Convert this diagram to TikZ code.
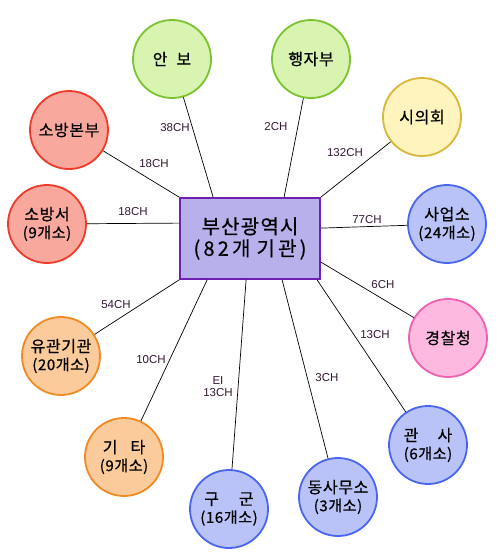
\documentclass[tikz,border=0pt]{standalone}
\usepackage{fontspec}
\newfontfamily\kr[FakeBold=0.6]{Noto Sans CJK KR}
\newfontfamily\lab{Liberation Sans}
\usetikzlibrary{calc}
\definecolor{gFill}{HTML}{D8F4B0}\definecolor{gLine}{HTML}{7DC230}
\definecolor{rFill}{HTML}{F9A89E}\definecolor{rLine}{HTML}{F03A2A}
\definecolor{yFill}{HTML}{FFF3BE}\definecolor{yLine}{HTML}{D9B73A}
\definecolor{bFill}{HTML}{B9C3F7}\definecolor{bLine}{HTML}{4A66F0}
\definecolor{pFill}{HTML}{FDB9E0}\definecolor{pLine}{HTML}{F060B0}
\definecolor{oFill}{HTML}{FCCB9C}\definecolor{oLine}{HTML}{F28A24}
\definecolor{boxFill}{HTML}{B8B0EA}\definecolor{boxLine}{HTML}{7020B0}
\definecolor{lblText}{HTML}{331A33}
\newcommand{\subline}[1]{{\fontsize{15}{17}\selectfont #1}}
\begin{document}
\begin{tikzpicture}[x=1pt,y=-1pt,
  orgcirc/.style={circle, line width=1.8pt, minimum size=78pt, inner sep=0pt,
    align=center, font=\kr\addfontfeature{LetterSpace=4}\fontsize{16}{18}\selectfont},
  grn/.style={orgcirc, draw=gLine, fill=gFill},
  rd/.style={orgcirc, draw=rLine, fill=rFill},
  yel/.style={orgcirc, draw=yLine, fill=yFill},
  blu/.style={orgcirc, draw=bLine, fill=bFill},
  pnk/.style={orgcirc, draw=pLine, fill=pFill},
  org/.style={orgcirc, draw=oLine, fill=oFill},
  hub/.style={rectangle, draw=boxLine, fill=boxFill, line width=1.8pt,
    minimum width=140pt, minimum height=81pt, inner sep=0pt, align=center,
    font=\kr\addfontfeature{LetterSpace=6}\fontsize{20}{22}\selectfont},
  link/.style={draw=black, line width=0.7pt},
  lbl/.style={font=\lab\fontsize{11.5}{12}\selectfont, text=lblText, inner sep=0pt, align=center}]
\useasboundingbox (0,0) rectangle (500,558);
\fill[white] (0,0) rectangle (500,558);

\node[hub] (busan) at (250,238.5) {부산광역시\\{\addfontfeature{LetterSpace=16}(82개}\hspace{6pt}{\addfontfeature{LetterSpace=16}기관)}};

\node[grn] (anbo) at (172,59) {안\hspace{9pt}보};
\node[grn] (haengja) at (311,59) {행자부};
\node[yel] (sieui) at (422,117) {시의회};
\node[rd] (bonbu) at (69,130) {소방본부};
\node[rd] (sobangseo) at (47,224) {소방서\\\subline{(9개소)}};
\node[blu] (saeopso) at (447,224) {사업소\\\subline{(24개소)}};
\node[pnk] (police) at (448,338) {경찰청};
\node[blu] (gwansa) at (428,445) {관\hspace{19pt}사\\\subline{(6개소)}};
\node[blu] (dong) at (338,497) {동사무소\\\subline{(3개소)}};
\node[blu] (gugun) at (229,509) {구\hspace{20pt}군\\\subline{(16개소)}};
\node[org] (gita) at (124,457) {기\hspace{13pt}타\\\subline{(9개소)}};
\node[org] (yugwan) at (61,356) {유관기관\\\subline{(20개소)}};

\draw[link] ($(busan.north west)+(34,0)$) -- (anbo);
\draw[link] ($(busan.north west)+(105,0)$) -- (haengja);
\draw[link] (busan.north east) -- (sieui);
\draw[link] (busan.north west) -- (bonbu);
\draw[link] ($(busan.north west)+(0,26)$) -- (sobangseo);
\draw[link] ($(busan.north east)+(0,31)$) -- (saeopso);
\draw[link] ($(busan.north east)+(0,65)$) -- (police);
\draw[link] ($(busan.south west)+(138,0)$) -- (gwansa);
\draw[link] ($(busan.south west)+(103,0)$) -- (dong);
\draw[link] ($(busan.south west)+(67,0)$) -- (gugun);
\draw[link] ($(busan.south west)+(28,0)$) -- (gita);
\draw[link] (busan.south west) -- (yugwan);

\node[lbl] (l38) at (175,128) {38CH};
\node[lbl] (l18a) at (154,164) {18CH};
\node[lbl] (l18b) at (133,212) {18CH};
\node[lbl] (l2) at (276,127) {2CH};
\node[lbl] (l132) at (345,153) {132CH};
\node[lbl] (l77) at (367,220) {77CH};
\node[lbl] (l6) at (383,285) {6CH};
\node[lbl] (l13a) at (375,335) {13CH};
\node[lbl] (l3) at (327,378) {3CH};
\node[lbl] (l13b) at (218,387) {EI\\13CH};
\node[lbl] (l10) at (151,360) {10CH};
\node[lbl] (l54) at (116,305) {54CH};
\end{tikzpicture}
\end{document}
